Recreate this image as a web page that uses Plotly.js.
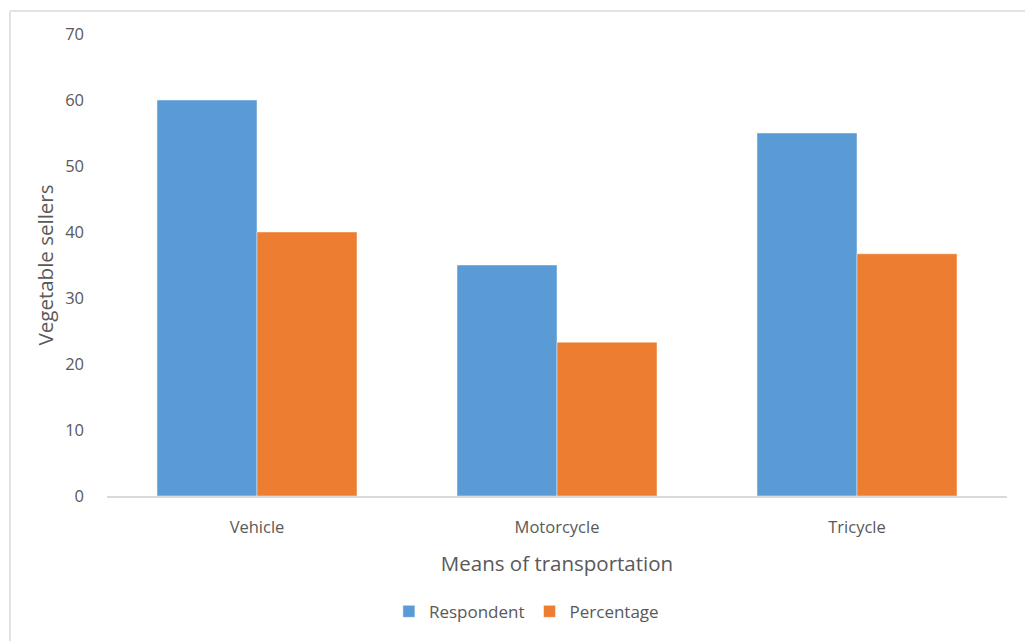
<!DOCTYPE html>
<html>
<head>
<meta charset="utf-8">
<script src="https://cdn.plot.ly/plotly-3.0.1.min.js"></script>
<style>
  html, body { margin: 0; padding: 0; background: #ffffff; }
  #chart { width: 1025px; height: 641px; }
</style>
</head>
<body>
<div id="chart"></div>
<script>
// Means of transportation used by vegetable sellers
const categories = ["Vehicle", "Motorcycle", "Tricycle"];
const respondent = [60, 35, 55];
const percentage = [40, 23.3, 36.7];
const yTicks = [0, 10, 20, 30, 40, 50, 60, 70];

const textColor = "#595959";
const fontFamily = "'Open Sans', 'Noto Sans', sans-serif";

const traces = [
  {
    type: "bar",
    name: "Respondent",
    x: categories,
    y: respondent,
    marker: { color: "#5B9BD5", line: { color: "rgba(255,255,255,0.45)", width: 1 } },
    hoverinfo: "x+y+name"
  },
  {
    type: "bar",
    name: "Percentage",
    x: categories,
    y: percentage,
    marker: { color: "#ED7D31", line: { color: "rgba(255,255,255,0.45)", width: 1 } },
    hoverinfo: "x+y+name"
  }
];

const layout = {
  width: 1025,
  height: 641,
  paper_bgcolor: "#ffffff",
  plot_bgcolor: "#ffffff",
  font: { family: fontFamily, color: textColor, size: 16 },
  margin: { l: 107, r: 18, t: 34, b: 144, pad: 0 },
  barmode: "group",
  bargap: 1 / 3,
  bargroupgap: 0,
  showlegend: true,
  legend: {
    orientation: "h",
    x: 0.466,
    xanchor: "center",
    y: -0.248,
    yanchor: "middle",
    font: { size: 17, color: textColor },
    itemwidth: 30,
    traceorder: "normal"
  },
  xaxis: {
    type: "category",
    showgrid: false,
    showline: true,
    linecolor: "#d9d9d9",
    linewidth: 2,
    zeroline: false,
    ticks: "",
    ticklabelstandoff: 15,
    tickfont: { size: 16.5, color: textColor },
    automargin: false,
    title: {
      text: "Means of transportation",
      font: { size: 20.5, color: textColor },
      standoff: 20
    }
  },
  yaxis: {
    range: [0, 70],
    tickvals: yTicks,
    ticktext: yTicks.map(String),
    showgrid: false,
    showline: false,
    zeroline: false,
    ticks: "",
    ticklabelstandoff: 22,
    tickfont: { size: 16.5, color: textColor },
    automargin: false,
    title: {
      text: "Vegetable sellers",
      font: { size: 20.5, color: textColor },
      standoff: 5
    }
  },
  shapes: [
    // light frame along the left and top of the chart area
    { type: "line", xref: "paper", yref: "paper", x0: -0.1078, x1: 1.03, y0: 1.0497, y1: 1.0497,
      line: { color: "#e3e3e3", width: 2 } },
    { type: "line", xref: "paper", yref: "paper", x0: -0.1078, x1: -0.1078, y0: 1.0497, y1: -0.32,
      line: { color: "#e3e3e3", width: 2 } }
  ]
};

Plotly.newPlot("chart", traces, layout, { displayModeBar: false });
</script>
</body>
</html>
